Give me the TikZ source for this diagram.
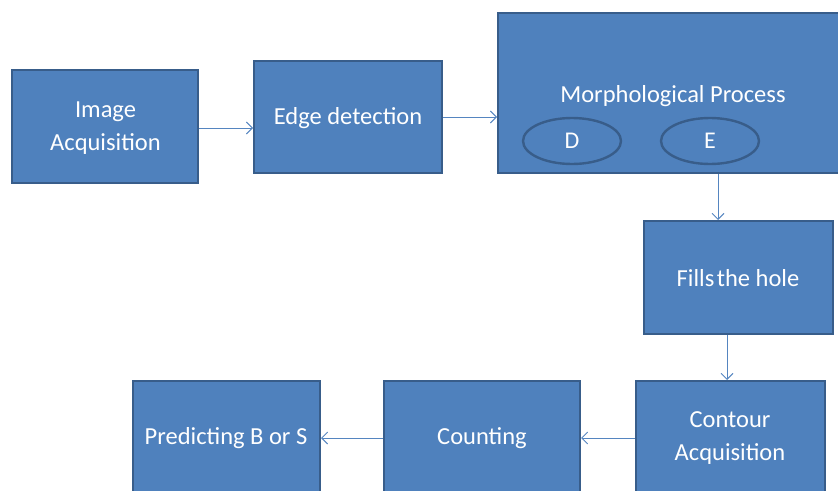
\documentclass[tikz,border=0pt]{standalone}
\usepackage{fontspec}
\setmainfont{Carlito}
\usetikzlibrary{arrows.meta,shapes.geometric}
\definecolor{boxfill}{HTML}{4F81BD}
\definecolor{boxline}{HTML}{385D8A}
\definecolor{arrowcol}{HTML}{5585C0}
\tikzset{
  stage/.style={draw=boxline, line width=2.6pt, fill=boxfill},
  lbl/.style={text=white, font=\fontsize{24.5}{33}\selectfont, align=center, inner sep=0pt},
  flow/.style={draw=arrowcol, line width=0.9pt, -{Straight Barb[length=6pt,width=12pt,line width=0.9pt]}},
  op/.style={draw=boxline, line width=2.4pt, ellipse, minimum width=98pt, minimum height=46pt, inner sep=0pt}
}
\begin{document}
\begin{tikzpicture}[x=1pt,y=-1pt]
\useasboundingbox (0,0) rectangle (838,490);
% stage boxes (named by their rectangles)
\draw[stage] (12,70) rectangle (198,183) node[pos=0.5] (acq) {};
\draw[stage] (254,61) rectangle (442,173) node[pos=0.5] (edge) {};
\draw[stage] (498,13) rectangle (860,173) node[pos=0.5] (morph) {};
\draw[stage] (644,221) rectangle (833,334) node[pos=0.5] (fill) {};
\draw[stage] (636,381) rectangle (825,500) node[pos=0.5] (cont) {};
\draw[stage] (384,381) rectangle (580,500) node[pos=0.5] (count) {};
\draw[stage] (133,381) rectangle (320,500) node[pos=0.5] (pred) {};
% anchor points on the box borders
\coordinate (acqE) at (199,128);
\coordinate (edgeW) at (253,128);
\coordinate (edgeE) at (443,117);
\coordinate (morphW) at (497,117);
\coordinate (morphS) at (718,174);
\coordinate (fillN) at (718,220);
\coordinate (fillS) at (727,335);
\coordinate (contN) at (727,380);
\coordinate (contW) at (635,438);
\coordinate (countE) at (581,438);
\coordinate (countW) at (383,438);
\coordinate (predE) at (321,438);
% labels
\node[lbl] (acqT) at (105.5,128) {Image\\Acquisition};
\node[lbl] (edgeT) at (348,118) {Edge detection};
\node[lbl] (morphT) at (673,96) {Morphological Process};
\node[op, text=white, font=\fontsize{24}{26}\selectfont] (dil) at (572,141) {D};
\node[op, text=white, font=\fontsize{24}{26}\selectfont] (ero) at (710,141) {E};
\node[lbl] (fillT) at (738,278) {Fills\kern-3pt\ the hole};
\node[lbl] (contT) at (730,438) {Contour\\Acquisition};
\node[lbl] (countT) at (482,438) {Counting};
\node[lbl] (predT) at (226,438) {Predicting B or S};
% connectors
\draw[flow] (acqE) -- (edgeW);
\draw[flow] (edgeE) -- (morphW);
\draw[flow] (morphS) -- (fillN);
\draw[flow] (fillS) -- (contN);
\draw[flow] (contW) -- (countE);
\draw[flow] (countW) -- (predE);
\end{tikzpicture}
\end{document}
